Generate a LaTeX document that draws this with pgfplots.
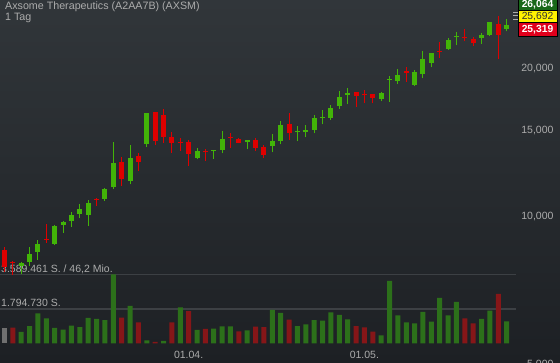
\documentclass[border=0pt]{standalone}
\usepackage{fontspec}
\setmainfont{Liberation Sans}
\usepackage{pgfplots}
\usepackage{pgfplotstable}
\pgfplotsset{compat=1.18}
\definecolor{bgtop}{RGB}{49,54,58}
\definecolor{bgbot}{RGB}{29,32,36}
\definecolor{cgreen}{RGB}{66,180,8}
\definecolor{cred}{RGB}{222,0,0}
\definecolor{vgreen}{RGB}{44,112,26}
\definecolor{vred}{RGB}{134,22,24}
\definecolor{vgray}{RGB}{112,112,112}
\definecolor{txt}{RGB}{172,172,172}
\definecolor{gridc}{RGB}{60,64,68}
\definecolor{boxgreen}{RGB}{24,104,24}
\definecolor{boxred}{RGB}{224,0,28}

% daily candles: index, open, high, low, close
\pgfplotstableread{
i o h l c
1 8553 8687 7714 7908
2 8085 8134 7606 8047
3 7934 8096 7631 8058
4 8074 8687 7946 8394
5 8485 8964 8161 8797
6 8985 9663 8851 8943
7 8797 9618 8756 9573
8 9618 9800 9277 9768
9 9814 10238 9542 10080
10 10128 10599 9925 10383
11 10080 10815 9586 10679
12 10841 10933 10515 10790
13 10866 11426 10765 11388
14 11480 14179 11388 12884
15 12945 13252 11566 11936
16 11824 14001 11642 13190
17 13315 13466 12410 12945
18 14086 16290 13889 16269
19 16346 16370 14001 14286
20 16117 16554 14153 14557
21 14536 14861 13504 14153
22 14219 14434 13599 14166
23 14199 14333 12669 13421
24 13172 13785 13092 13612
25 13599 13721 13006 13535
26 13599 13676 13129 13644
27 13676 14951 13466 14400
28 14536 14791 13824 14482
29 14400 14468 14113 14133
30 14199 14345 13721 14333
31 14333 14489 13612 13824
32 13850 14001 13153 13377
33 13935 14742 13529 14266
34 14266 15670 14047 15379
35 15451 16247 14333 14812
36 14930 15307 14246 14972
37 14902 15379 14516 15043
38 15043 16117 14791 15892
39 15915 16500 15429 15967
40 15892 16868 15744 16656
41 16836 18039 16601 17538
42 17728 18269 16948 17896
43 17955 17970 16758 17646
44 17745 18124 17027 17662
45 17787 17800 17027 17481
46 17399 17980 17188 17871
47 19022 19355 17156 19084
48 18906 19973 18641 19446
49 19786 20161 18844 19602
50 18554 19908 18467 19722
51 19537 21765 19147 20963
52 20602 21580 20161 21561
53 21765 22736 21091 21663
54 21970 23134 21867 22918
55 23275 23795 22355 23352
56 23210 24098 22778 23112
57 23026 23210 22281 22566
58 23134 23717 22523 23495
59 23462 24960 23352 24938
60 24705 25650 20933 23462
61 24132 25292 23873 24624
}\candles

\begin{document}
\begin{tikzpicture}[font=\fontsize{10.5}{12}\selectfont]
\useasboundingbox (0,0) rectangle (560pt,363pt);
\clip (0,0) rectangle (560pt,363pt);
\shade[top color=bgtop, bottom color=bgbot] (0,0) rectangle (560pt,363pt);

% ---------- volume panel ----------
\begin{axis}[at={(0pt,19.5pt)}, anchor=south west, scale only axis,
  width=560pt, height=343.5pt,
  xmin=0.4624, xmax=67.37, ymin=0, ymax=17.869,
  axis line style={draw=none}, tick style={draw=none},
  ytick=\empty, xtick={23,44}, xticklabels={01.04.,01.05.},
  xticklabel style={anchor=base, yshift=-14.8pt, text=txt, font=\fontsize{10.5}{12}\selectfont},
  clip=false]
\addplot[gridc, line width=1.2pt] coordinates {(0.4624,3.589461) (62.11,3.589461)};
\addplot[gridc, line width=1.2pt] coordinates {(0.4624,1.794730) (62.11,1.794730)};
\addplot[ybar, bar width=5pt, bar shift=0pt, fill=vgray, draw=none] coordinates {(1,0.806)};
\addplot[ybar, bar width=5pt, bar shift=0pt, fill=vred, draw=none] coordinates {
(2,0.822) (15,1.342) (17,1.103) (19,0.078) (21,1.103) (23,1.680) (25,0.754)
(29,0.635) (31,0.874) (32,0.858) (35,1.238) (43,0.910) (44,0.843) (45,0.614)
(56,1.311) (57,1.051) (60,2.575)};
\addplot[ybar, bar width=5pt, bar shift=0pt, fill=vgreen, draw=none] coordinates {
(3,0.598) (4,0.910) (5,1.571) (6,1.311) (7,0.806) (8,0.718) (9,0.926) (10,0.858)
(11,1.327) (12,1.275) (13,1.222) (14,3.600) (16,1.951) (18,0.166) (20,0.130)
(22,1.873) (24,0.713) (26,0.770) (27,0.895) (28,0.895) (30,0.687) (33,1.743)
(34,1.587) (36,0.910) (37,0.999) (38,1.222) (39,1.186) (40,1.623) (41,1.483)
(42,1.259) (46,0.427) (47,3.251) (48,1.467) (49,1.103) (50,1.051) (51,1.639)
(52,1.134) (53,2.367) (54,1.467) (55,2.159) (58,1.275) (59,1.706) (61,1.155)};
\end{axis}

\node[anchor=base west, inner sep=0, text=txt] at (1pt,90.7pt) {3.589.461 S. / 46,2 Mio.};
\node[anchor=base west, inner sep=0, text=txt] at (1pt,56.3pt) {1.794.730 S.};

% ---------- price panel ----------
\begin{axis}[at={(0pt,-3.5pt)}, anchor=south west, scale only axis,
  width=560pt, height=366.5pt,
  xmin=0.4624, xmax=67.37, ymode=log, ymin=4950, ymax=27651,
  axis line style={draw=none}, tick style={draw=none},
  xtick=\empty, ytick={5000,10000,15000,20000},
  yticklabels={{5,000},{10,000},{15,000},{20,000}},
  yticklabel pos=right,
  yticklabel style={anchor=east, xshift=-3pt, text=txt, font=\fontsize{10.5}{12}\selectfont},
  clip=false]
\pgfplotstablegetrowsof{\candles}
\pgfmathtruncatemacro\lastrow{\pgfplotsretval-1}
\pgfplotsforeachungrouped \rowi in {0,...,\lastrow}{%
  \pgfplotstablegetelem{\rowi}{i}\of\candles \let\Cx\pgfplotsretval
  \pgfplotstablegetelem{\rowi}{o}\of\candles \let\Cop\pgfplotsretval
  \pgfplotstablegetelem{\rowi}{h}\of\candles \let\Chi\pgfplotsretval
  \pgfplotstablegetelem{\rowi}{l}\of\candles \let\Clo\pgfplotsretval
  \pgfplotstablegetelem{\rowi}{c}\of\candles \let\Ccl\pgfplotsretval
  \ifnum\Ccl<\Cop\relax \def\Ccol{cred}\else\def\Ccol{cgreen}\fi
  \edef\temp{%
    \noexpand\addplot[draw=\Ccol, line width=1pt, forget plot] coordinates {(\Cx,\Clo) (\Cx,\Chi)};
    \noexpand\addplot[draw=\Ccol, line width=5pt, line cap=butt, forget plot] coordinates {(\Cx,\Cop) (\Cx,\Ccl)};
  }%
  \temp
}
\end{axis}

% ---------- titles and quote boxes ----------
\node[anchor=base west, inner sep=0, text=txt, font=\fontsize{10.7}{12}\selectfont] at (5pt,353.7pt) {Axsome Therapeutics (A2AA7B) (AXSM)};
\node[anchor=base west, inner sep=0, text=txt, font=\fontsize{10.7}{12}\selectfont] at (5pt,342.3pt) {1 Tag};

\foreach \yy in {350.7,347.3,344}{\draw[txt, line width=0.9pt] (513pt,\yy pt) -- (518.5pt,\yy pt);}

\filldraw[fill=boxgreen, draw=black, line width=0.8pt] (518pt,352.7pt) rectangle (557pt,365pt);
\filldraw[fill=yellow, draw=black, line width=0.8pt] (518pt,340.5pt) rectangle (557pt,352.7pt);
\filldraw[fill=boxred, draw=black, line width=0.8pt] (518pt,327pt) rectangle (557pt,340.5pt);
\node[text=white, inner sep=0, font=\fontsize{10.3}{12}\selectfont\bfseries] at (537.5pt,358.3pt) {26,064};
\node[text=black!80, inner sep=0, font=\fontsize{10.3}{12}\selectfont] at (537.5pt,346.4pt) {25,692};
\node[text=white, inner sep=0, font=\fontsize{10.3}{12}\selectfont\bfseries] at (537.5pt,333.6pt) {25,319};
\end{tikzpicture}
\end{document}
